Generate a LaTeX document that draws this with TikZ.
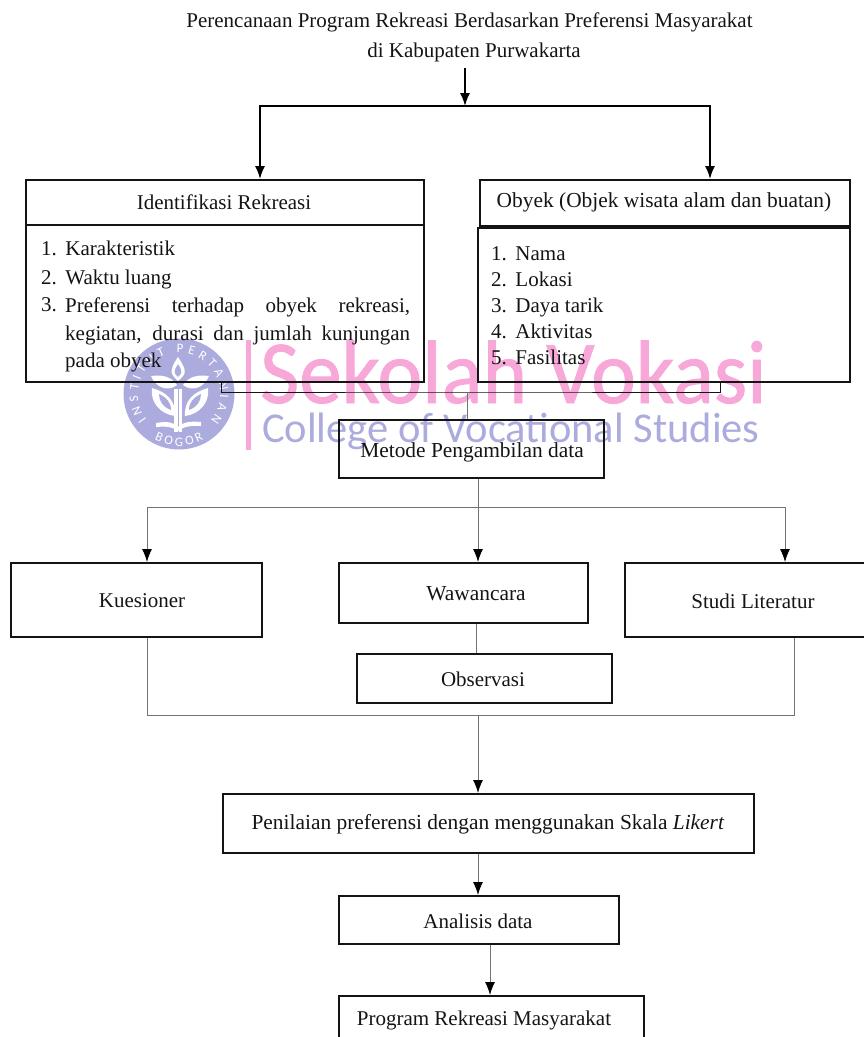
\documentclass[tikz,border=0pt]{standalone}
\usepackage{fontspec}
\setmainfont{Liberation Serif}
\newfontfamily\markfont{Carlito}
\newfontfamily\markfontbold[FakeBold=1]{Carlito}
\usetikzlibrary{decorations.text,arrows.meta}
\definecolor{markblue}{RGB}{171,171,221}
\definecolor{markpink}{RGB}{247,168,216}
\definecolor{inkblack}{RGB}{20,20,20}
\definecolor{linegrey}{RGB}{115,115,115}
\tikzset{
  boxnode/.style={draw=inkblack,line width=1.5pt,inner sep=0pt,anchor=north west},
  labelnode/.style={inkblack,inner sep=0pt,font=\fontsize{21}{27.5}\selectfont},
  widelabel/.style={labelnode,font=\fontsize{21.4}{27.5}\selectfont},
  listnode/.style={labelnode,anchor=base west},
  mainline/.style={draw=black,line width=1.6pt},
  thinline/.style={draw=linegrey,line width=1pt},
  arrowtip/.style={-{Latex[length=13pt,width=10pt,color=black,fill=black]}}
}
\begin{document}
\begin{tikzpicture}[x=1pt,y=1pt]
  \useasboundingbox (0,0) rectangle (864,-1037);
  % watermark
  \def\cx{179};
  \def\cy{-394};
  \fill[markblue] (\cx,\cy) circle (55.5);
  \begin{scope}[shift={(\cx,\cy)}]
    \fill[white] (-1,37) .. controls (-11,22) and (-8,20) .. (-1,13) .. controls (7,20) and (9,22) .. (-1,37);
    \fill[markblue] (-1,30) .. controls (-6,22) and (-5,21) .. (-1,17) .. controls (3,21) and (4,22) .. (-1,30);
    \foreach \s in {-1,1}{
      \fill[white,xscale=\s,shift={(\s*1,0)}] (3,9) .. controls (10,19) and (20,19) .. (29,18) .. controls (24,6) and (12,2) .. (3,9);
      \fill[white,xscale=\s,shift={(\s*1,0)}] (5,-22) .. controls (4,-6) and (14,2) .. (28,6) .. controls (30,-8) and (20,-20) .. (5,-22);
      \fill[markblue,xscale=\s,shift={(\s*1,0)}] (9,-16) .. controls (9,-8) and (14,-3) .. (21,0) .. controls (21,-7) and (17,-13) .. (9,-16);
    }
    \fill[white] (-5,-38) rectangle (3,5);
    \draw[markblue,line width=1pt] (-1,-38)--(-1,6);
    \fill[white] (-23,-29) .. controls (-12,-27) and (-6,-28) .. (-1,-33) .. controls (4,-28) and (12,-27) .. (22,-28) -- (22,-32) .. controls (12,-31) and (4,-33) .. (-1,-37) .. controls (-6,-33) and (-12,-32) .. (-23,-33) -- cycle;
    \path[decorate,decoration={text along path,text align=fit to path,
      text={|\color{white}\markfont\fontsize{13}{13}\selectfont|INSTITUT PERTANIAN}}]
      (218:41) arc (218:-40:41);
    \path[decorate,decoration={text along path,text align=center,
      text={|\color{white}\markfont\fontsize{13}{13}\selectfont|B O G O R}}]
      (238:52) arc (238:302:52);
  \end{scope}
  \fill[markpink] (246,-450) rectangle (251,-340);
  \node[anchor=base west,inner sep=0pt,markpink,xscale=0.945,transform shape,font=\markfontbold\fontsize{90}{90}\selectfont] (sekolah) at (260,-403) {Sekolah Vokasi};
  \node[anchor=base west,inner sep=0pt,markblue,font=\markfont\fontsize{42.5}{42.5}\selectfont] (college) at (262,-442) {College of Vocational Studies};
  % title
  \node[labelnode] (title1) at (469.5,-22) {Perencanaan Program Rekreasi Berdasarkan Preferensi Masyarakat};
  \node[labelnode] (title2) at (474,-52) {di Kabupaten Purwakarta};
  % boxes
  \node[boxnode,minimum width=398pt,minimum height=45pt] (idhead) at (25,-179) {};
  \node[boxnode,minimum width=398pt,minimum height=157pt] (idbody) at (25,-224) {};
  \node[boxnode,minimum width=370pt,minimum height=46pt] (objhead) at (479,-179) {};
  \node[boxnode,minimum width=372pt,minimum height=154pt] (objbody) at (477,-227) {};
  \node[boxnode,minimum width=265pt,minimum height=58pt] (metode) at (338,-419) {};
  \node[boxnode,minimum width=251pt,minimum height=74pt] (kues) at (10,-562) {};
  \node[boxnode,minimum width=249pt,minimum height=60pt] (wawan) at (338,-562) {};
  \node[boxnode,minimum width=250pt,minimum height=74pt] (studi) at (624,-562) {};
  \node[boxnode,minimum width=255pt,minimum height=49pt] (obser) at (356,-653) {};
  \node[boxnode,minimum width=531pt,minimum height=59pt] (nilai) at (222,-793) {};
  \node[boxnode,minimum width=280pt,minimum height=48pt] (analisis) at (338,-895) {};
  \node[boxnode,minimum width=305pt,minimum height=60pt] (program) at (338,-995) {};
  % box labels
  \node[labelnode] (idtext) at (224,-202) {Identifikasi Rekreasi};
  \node[widelabel] (objtext) at (664,-202) {Obyek (Objek wisata alam dan buatan)};
  \node[widelabel] (metodetext) at (472,-452) {Metode Pengambilan data};
  \node[labelnode] (kuestext) at (142,-601) {Kuesioner};
  \node[widelabel] (wawantext) at (476,-594) {Wawancara};
  \node[labelnode] (studitext) at (753,-601) {Studi Literatur};
  \node[labelnode] (obsertext) at (483,-679) {Observasi};
  \node[widelabel] (nilaitext) at (488,-824) {Penilaian preferensi dengan menggunakan Skala \textit{Likert}};
  \node[labelnode] (analisistext) at (478,-921) {Analisis data};
  \node[labelnode] (programtext) at (484,-1020) {Program Rekreasi Masyarakat};
  % lists
  \node[listnode] (id1) at (41,-255) {1.\hspace{8.5pt}Karakteristik};
  \node[listnode] (id2) at (41,-284) {2.\hspace{8.5pt}Waktu luang};
  \node[listnode] (id3) at (41,-311) {3.};
  \node[labelnode,anchor=north west,text width=345pt,align=justify] (id3text) at (65,-298) {Preferensi terhadap obyek rekreasi, kegiatan, durasi dan jumlah kunjungan pada obyek};
  \node[listnode] (obj1) at (491,-260) {1.\hspace{8.5pt}Nama};
  \node[listnode] (obj2) at (491,-286) {2.\hspace{8.5pt}Lokasi};
  \node[listnode] (obj3) at (491,-312) {3.\hspace{8.5pt}Daya tarik};
  \node[listnode] (obj4) at (491,-338) {4.\hspace{8.5pt}Aktivitas};
  \node[listnode] (obj5) at (491,-364) {5.\hspace{8.5pt}Fasilitas};
  % connectors
  \coordinate (top) at (465,-68);
  \coordinate (split) at (465,-106);
  \draw[mainline,arrowtip] (top)--(split);
  \draw[mainline,arrowtip] (split)-|(idhead.north-|260,0);
  \draw[mainline,arrowtip] (split)-|(objhead.north-|710,0);
  \coordinate (joinL) at (idbody.south-|221,0);
  \coordinate (joinR) at (objbody.south-|720,0);
  \coordinate (joinB) at (467,-392);
  \draw[inkblack,line width=1pt] (joinL)|-(joinB)-|(joinR);
  \draw[thinline] (joinB)--(metode.north-|467,0);
  \coordinate (fan) at (478,-507);
  \draw[thinline] (metode.south-|478,0)--(fan);
  \draw[thinline,arrowtip] (fan)-|(kues.north-|147,0);
  \draw[thinline,arrowtip] (fan)--(wawan.north-|478,0);
  \draw[thinline,arrowtip] (fan)-|(studi.north-|785,0);
  \draw[thinline] (wawan.south-|476,0)--(obser.north-|476,0);
  \coordinate (gather) at (478,-715);
  \draw[thinline] (kues.south-|147,0)|-(gather)-|(studi.south-|794,0);
  \draw[thinline,arrowtip] (gather)--(nilai.north-|478,0);
  \draw[thinline,arrowtip] (nilai.south-|478,0)--(analisis.north-|478,0);
  \draw[thinline,arrowtip] (analisis.south-|490,0)--(program.north-|490,0);
\end{tikzpicture}
\end{document}
